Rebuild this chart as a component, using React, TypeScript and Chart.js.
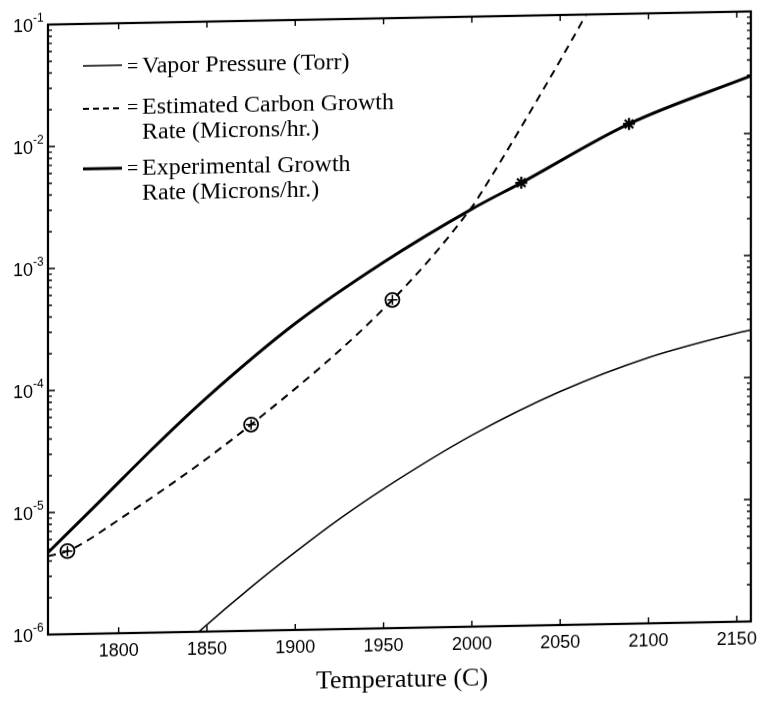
import React, { useEffect, useRef } from "react";
import { Chart, registerables } from "chart.js";

Chart.register(...registerables);

// Temperature (C) and values read for each curve
const vaporTemps = [1830, 1844, 1875, 1900, 1925, 1950, 2000, 2050, 2100, 2150, 2158];
const vaporValues = [6.3e-7, 9.6e-7, 2.28e-6, 4.35e-6, 8.0e-6, 1.39e-5, 3.7e-5, 8.2e-5, 1.51e-4, 2.32e-4, 2.45e-4];

const estimatedTemps = [1760, 1771, 1800, 1875, 1955, 2000, 2004.5, 2037, 2065, 2075];
const estimatedValues = [4.4e-6, 4.8e-6, 8.5e-6, 4.9e-5, 4.9e-4, 2.75e-3, 3.44e-3, 2.03e-2, 1.02e-1, 1.9e-1];

const experimentalTemps = [1760, 1790, 1820, 1850, 1900, 1950, 2000, 2028, 2089, 2158];
const experimentalValues = [4.7e-6, 1.24e-5, 3.3e-5, 8.3e-5, 3.25e-4, 1.0e-3, 2.65e-3, 4.27e-3, 1.25e-2, 2.96e-2];

// Marked samples on the estimated curve (circled plus) and measured points (asterisks)
const sampleTemps = [1771, 1875, 1955];
const sampleValues = [4.8e-6, 4.9e-5, 4.9e-4];
const measuredTemps = [2028, 2089];
const measuredValues = [4.27e-3, 1.25e-2];

// Axes
const xMin = 1760;
const xMax = 2158;
const xTickValues = [1800, 1850, 1900, 1950, 2000, 2050, 2100, 2150];
const yDecades = [1e-6, 1e-5, 1e-4, 1e-3, 1e-2, 1e-1];
const yExponents = ["-6", "-5", "-4", "-3", "-2", "-1"];
const minorMultipliers = [2, 3, 4, 5, 6, 7, 8, 9];

const xTitle = "Temperature (C)";
const legendStyles = ["thin", "dashed", "thick"];
const legendLines = [
  ["Vapor Pressure (Torr)"],
  ["Estimated Carbon Growth", "Rate (Microns/hr.)"],
  ["Experimental Growth", "Rate (Microns/hr.)"],
];

const toPoints = (xs: number[], ys: number[]) => xs.map((x, i) => ({ x, y: ys[i] }));

const SANS = '"Liberation Sans", Arial, Helvetica, sans-serif';
const SERIF = '"Liberation Serif", "Times New Roman", Times, serif';

const framePlugin = {
  id: "frame",
  afterDatasetsDraw(chart: any) {
    const { ctx, chartArea: a, scales } = chart;
    const xs = scales.x;
    const ys = scales.y;
    ctx.save();
    ctx.strokeStyle = "#000";
    ctx.fillStyle = "#000";
    ctx.setLineDash([]);

    // box
    ctx.lineWidth = 2.2;
    ctx.strokeRect(a.left, a.top, a.right - a.left, a.bottom - a.top);

    // inward ticks
    ctx.lineWidth = 1.4;
    ctx.beginPath();
    for (const t of xTickValues) {
      const px = xs.getPixelForValue(t);
      ctx.moveTo(px, a.bottom);
      ctx.lineTo(px, a.bottom - 6);
      ctx.moveTo(px, a.top);
      ctx.lineTo(px, a.top + 6);
    }
    yDecades.forEach((d, i) => {
      const py = ys.getPixelForValue(d);
      ctx.moveTo(a.left, py);
      ctx.lineTo(a.left + 7, py);
      ctx.moveTo(a.right, py);
      ctx.lineTo(a.right - 7, py);
      if (i < yDecades.length - 1) {
        for (const m of minorMultipliers) {
          const pm = ys.getPixelForValue(d * m);
          ctx.moveTo(a.left, pm);
          ctx.lineTo(a.left + 4, pm);
          ctx.moveTo(a.right, pm);
          ctx.lineTo(a.right - 4, pm);
        }
      }
    });
    ctx.stroke();

    // x tick labels
    ctx.font = `18px ${SANS}`;
    ctx.textAlign = "center";
    ctx.textBaseline = "middle";
    for (const t of xTickValues) {
      ctx.fillText(String(t), xs.getPixelForValue(t), a.bottom + 18);
    }

    // y tick labels: 10 with a raised exponent
    yDecades.forEach((d, i) => {
      const py = ys.getPixelForValue(d);
      ctx.font = `18px ${SANS}`;
      ctx.textAlign = "right";
      ctx.textBaseline = "middle";
      ctx.fillText("10", a.left - 15, py + 2);
      ctx.font = `12px ${SANS}`;
      ctx.textAlign = "left";
      ctx.fillText(yExponents[i], a.left - 15, py - 6);
    });

    // axis title
    ctx.font = `26px ${SERIF}`;
    ctx.textAlign = "center";
    ctx.textBaseline = "alphabetic";
    ctx.fillText(xTitle, 402, 687);

    // key
    const sampleY = [60, 103, 163];
    const textY = [68, 109, 170];
    ctx.textAlign = "left";
    legendStyles.forEach((style, i) => {
      ctx.beginPath();
      if (style === "thin") {
        ctx.lineWidth = 1.4;
        ctx.setLineDash([]);
      } else if (style === "dashed") {
        ctx.lineWidth = 2;
        ctx.setLineDash([6, 4]);
      } else {
        ctx.lineWidth = 3;
        ctx.setLineDash([]);
      }
      ctx.moveTo(83, sampleY[i]);
      ctx.lineTo(122, sampleY[i]);
      ctx.stroke();
      ctx.setLineDash([]);
      ctx.font = `20px ${SERIF}`;
      ctx.fillText("=", 127, textY[i]);
      ctx.font = `24px ${SERIF}`;
      legendLines[i].forEach((line, j) => {
        ctx.fillText(line, 142, textY[i] + j * 25);
      });
    });

    ctx.restore();
  },
};

export default function App() {
  const canvasRef = useRef<HTMLCanvasElement | null>(null);

  useEffect(() => {
    const canvas = canvasRef.current;
    if (!canvas) return;
    const chart = new Chart(canvas, {
      type: "line",
      data: {
        datasets: [
          {
            label: "Vapor Pressure (Torr)",
            data: toPoints(vaporTemps, vaporValues),
            borderColor: "#000",
            borderWidth: 1.5,
            pointRadius: 0,
            cubicInterpolationMode: "monotone",
            fill: false,
          },
          {
            label: "Estimated Carbon Growth Rate (Microns/hr.)",
            data: toPoints(estimatedTemps, estimatedValues),
            borderColor: "#000",
            borderWidth: 2,
            borderDash: [8, 6],
            pointRadius: 0,
            cubicInterpolationMode: "monotone",
            fill: false,
          },
          {
            label: "Experimental Growth Rate (Microns/hr.)",
            data: toPoints(experimentalTemps, experimentalValues),
            borderColor: "#000",
            borderWidth: 3,
            pointRadius: 0,
            cubicInterpolationMode: "monotone",
            fill: false,
          },
          {
            label: "Estimate samples",
            data: toPoints(sampleTemps, sampleValues),
            showLine: false,
            pointStyle: "circle",
            pointRadius: 7,
            pointBorderWidth: 1.8,
            pointBorderColor: "#000",
            pointBackgroundColor: "rgba(0,0,0,0)",
          },
          {
            label: "Estimate samples cross",
            data: toPoints(sampleTemps, sampleValues),
            showLine: false,
            pointStyle: "cross",
            pointRadius: 5,
            pointBorderWidth: 1.5,
            pointBorderColor: "#000",
          },
          {
            label: "Measured",
            data: toPoints(measuredTemps, measuredValues),
            showLine: false,
            pointStyle: "star",
            pointRadius: 6,
            pointBorderWidth: 2.2,
            pointBorderColor: "#000",
          },
        ],
      },
      options: {
        responsive: false,
        maintainAspectRatio: false,
        animation: false,
        devicePixelRatio: 1,
        layout: { padding: { top: 18, right: 10, left: 0, bottom: 0 } },
        plugins: {
          legend: { display: false },
          tooltip: { enabled: false },
        },
        scales: {
          x: {
            type: "linear",
            min: xMin,
            max: xMax,
            ticks: { display: false },
            grid: { display: false },
            border: { display: false },
            afterFit: (s: any) => {
              s.height = 74;
            },
          },
          y: {
            type: "logarithmic",
            min: 1e-6,
            max: 1e-1,
            ticks: { display: false },
            grid: { display: false },
            border: { display: false },
            afterFit: (s: any) => {
              s.width = 48;
            },
          },
        },
      },
      plugins: [framePlugin],
    } as any);
    return () => chart.destroy();
  }, []);

  return (
    <div style={{ position: "absolute", left: 0, top: 0, width: 761, height: 702, background: "#fff", overflow: "hidden" }}>
      <canvas
        ref={canvasRef}
        width={761}
        height={702}
        style={{ display: "block", width: 761, height: 702, transform: "skewY(-1.07deg)", transformOrigin: "400px 0px" }}
      />
    </div>
  );
}
